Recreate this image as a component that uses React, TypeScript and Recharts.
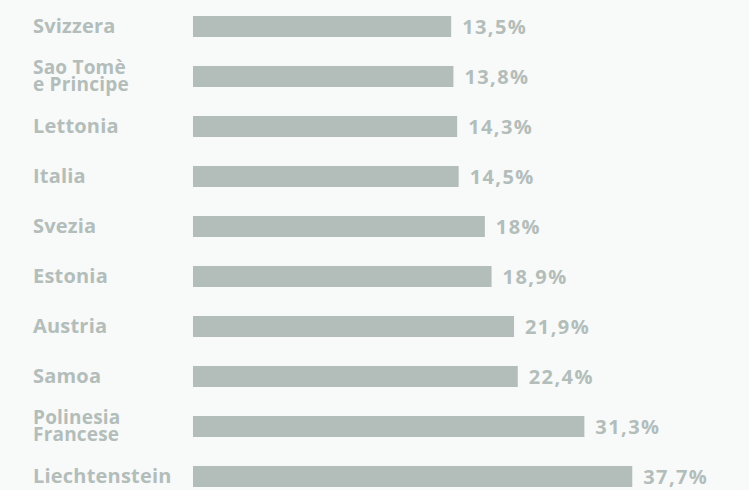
import { BarChart, Bar, XAxis, YAxis, LabelList } from 'recharts';

const countries = [
  'Svizzera',
  'Sao Tomè\ne Principe',
  'Lettonia',
  'Italia',
  'Svezia',
  'Estonia',
  'Austria',
  'Samoa',
  'Polinesia\nFrancese',
  'Liechtenstein',
];
const shares = [13.5, 13.8, 14.3, 14.5, 18, 18.9, 21.9, 22.4, 31.3, 37.7];

// axis starts below zero so the bars have a long stub on the left
const AXIS_MIN = -21;
const AXIS_MAX = 53.3;

const grey = '#b3bdba';
const font = '"Open Sans", sans-serif';

const data = countries.map((name, i) => ({ name, value: shares[i] }));

function CountryTick({ y, payload }: any) {
  const lines = String(payload.value).split('\n');
  const style = { fontFamily: font, fontWeight: 700, fill: grey, letterSpacing: 0.2 };
  if (lines.length === 1) {
    return (
      <text x={33} y={y + 7} textAnchor="start" style={{ ...style, fontSize: 20 }}>
        {lines[0]}
      </text>
    );
  }
  return (
    <text x={33} y={y - 2.5} textAnchor="start" style={{ ...style, fontSize: 19 }}>
      <tspan x={33} dy={0}>{lines[0]}</tspan>
      <tspan x={33} dy={17.5}>{lines[1]}</tspan>
    </text>
  );
}

function ValueLabel({ x, y, width, height, value }: any) {
  return (
    <text
      x={x + width + 11}
      y={y + height / 2 + 7}
      textAnchor="start"
      style={{ fontFamily: font, fontWeight: 700, fontSize: 20, letterSpacing: 1.4, fill: grey }}
    >
      {String(value).replace('.', ',') + '%'}
    </text>
  );
}

export default function App() {
  return (
    <div style={{ position: 'absolute', top: 0, left: 0, width: 749, height: 490, overflow: 'hidden', background: '#f8f9f9' }}>
      <BarChart
        width={749}
        height={510}
        data={data}
        layout="vertical"
        margin={{ top: 1, right: 0, bottom: 9, left: 0 }}
      >
        <XAxis type="number" domain={[AXIS_MIN, AXIS_MAX]} hide allowDataOverflow />
        <YAxis
          type="category"
          dataKey="name"
          width={193}
          axisLine={false}
          tickLine={false}
          interval={0}
          tick={<CountryTick />}
        />
        <Bar
          dataKey={(d: any) => [AXIS_MIN, d.value]}
          fill={grey}
          barSize={21}
          isAnimationActive={false}
        >
          <LabelList dataKey="value" content={<ValueLabel />} />
        </Bar>
      </BarChart>
    </div>
  );
}
